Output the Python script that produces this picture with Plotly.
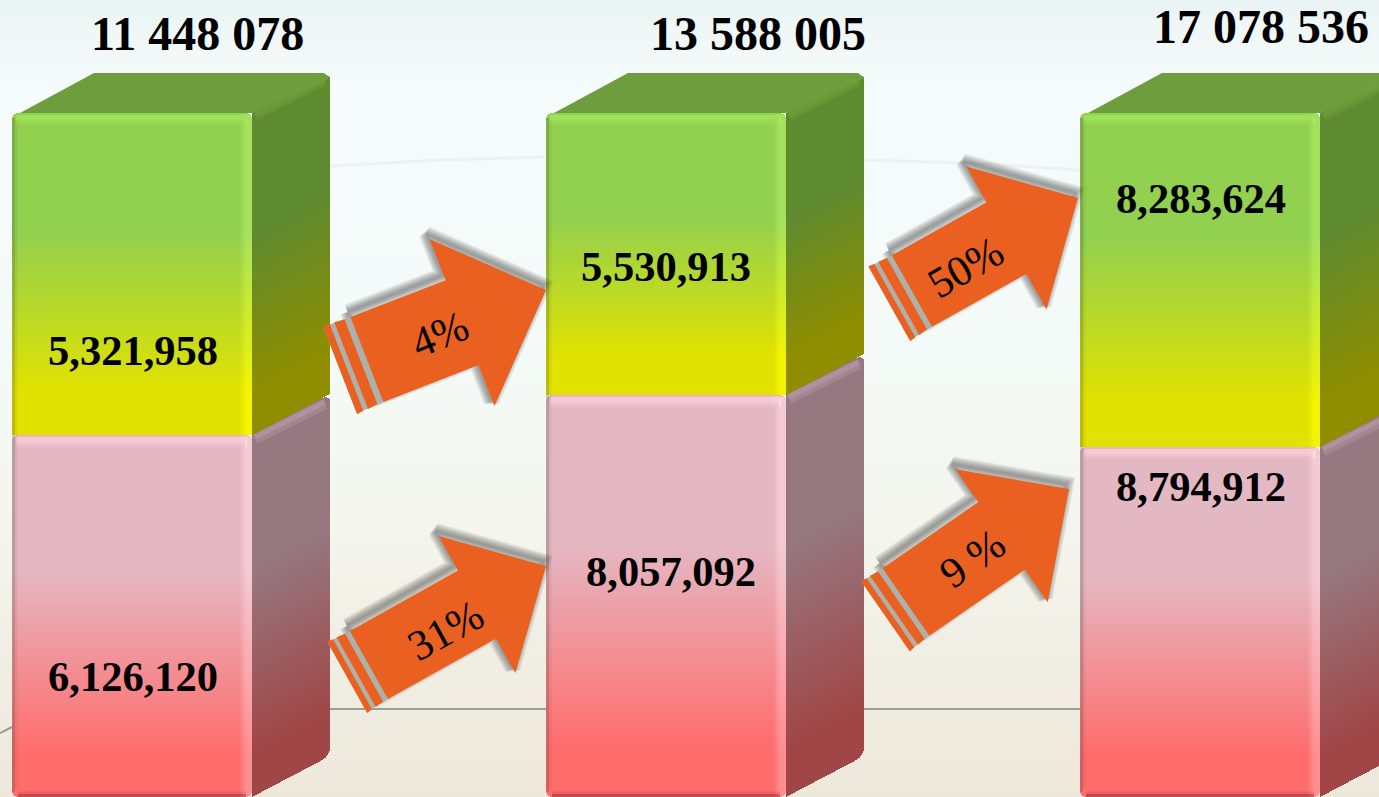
import math
import numpy as np
import plotly.graph_objects as go

# ---------- data ----------
categories = ["A", "B", "C"]
totals = [11448078, 13588005, 17078536]
green_values = [5321958, 5530913, 8283624]
pink_values = [6126120, 8057092, 8794912]
# drawn segment heights (the source picture is not to scale)
green_heights = [322, 282, 334]
pink_heights = [362, 402, 350]
arrow_labels = ["4%", "31%", "50%", "9 %"]

# ---------- layout / geometry ----------
W, H = 1379, 797
COL_LEFT = [12, 546, 1080]
COL_W = 240
DX, DY = 78, 41
R = 6
TOTAL_POS = [(197, 33), (758, 33), (1261, 26)]
GREEN_LABEL_POS = [(133, 350), (666, 266), (1201, 198)]
PINK_LABEL_POS = [(133, 676), (671, 571), (1201, 486)]
# back centre, tip, body width, head width, head length, tail length, text centre, text angle
ARROWS = [
    ((367, 359.5), (546, 290), 91, 179, 90, 29, (439, 334), -22),
    ((369, 665), (546, 566), 78, 157, 79, 25, (445, 630), -29),
    ((912, 291), (1078, 198), 82, 164, 82, 26, (965, 267), -30),
    ((906, 602), (1069, 489), 82, 162, 82, 25, (972, 558), -35),
]

GREEN_STOPS = [0, 0.37, 0.87, 1]
PINK_STOPS = [0, 0.37, 0.88, 1]
GREEN_C = ["#92d050", "#92d050", "#e2e200", "#e2e200"]
GREEN_LC = ["#a4e25e", "#a4e25e", "#f4f400", "#f4f400"]
GREEN_SC = ["#5e8a30", "#5e8a30", "#8e8e00", "#8e8e00"]
PINK_C = ["#e4b8c3", "#e4b8c3", "#ff6c6c", "#ff6c6c"]
PINK_LC = ["#f4cad4", "#f4cad4", "#ff8e90", "#ff8e90"]
PINK_SC = ["#957880", "#957880", "#a04646", "#a04646"]
ORANGE = "#e96020"


def mix(a, b, t):
    ca = [int(a[i:i + 2], 16) for i in (1, 3, 5)]
    cb = [int(b[i:i + 2], 16) for i in (1, 3, 5)]
    return "#%02x%02x%02x" % tuple(round(u + (v - u) * t) for u, v in zip(ca, cb))


def scale(stops, colors):
    return [[s, c] for s, c in zip(stops, colors)]


def mixed(stops, c0, c1, t):
    return [[s, mix(a, b, t)] for s, a, b in zip(stops, c0, c1)]


def Y(py):
    return H - py


fig = go.Figure()


def heat(xc, yc, z, cs, smooth=False):
    fig.add_trace(go.Heatmap(
        x=xc, y=yc, z=np.round(z, 3), colorscale=cs, zmin=0, zmax=1, showscale=False,
        hoverinfo="skip", zsmooth="best" if smooth else False))


def poly(pts, color, lw=0, lc=None):
    xs = [p[0] for p in pts] + [pts[0][0]]
    ys = [Y(p[1]) for p in pts] + [Y(pts[0][1])]
    fig.add_trace(go.Scatter(
        x=xs, y=ys, mode="lines", fill="toself", fillcolor=color,
        line=dict(width=lw, color=lc or color), hoverinfo="skip", showlegend=False))


def seg(x, y, color, w):
    fig.add_trace(go.Scatter(
        x=x, y=[None if v is None else Y(v) for v in y], mode="lines",
        line=dict(color=color, width=w), hoverinfo="skip", showlegend=False, connectgaps=False))


def front(x0, x1, top, bottom, span_top, span_h, cs, corners=(0, 0, 0, 0)):
    """Vertical gradient rectangle; top/bottom in pixels from the picture's top."""
    xs = np.arange(x0, min(x1, W)) + 0.5
    ps = np.arange(top, min(bottom, H)) + 0.5
    X, P = np.meshgrid(xs, ps)
    z = (P - span_top) / span_h
    tl, tr, bl, br = corners
    for flag, cx, cy, sx, sy in ((tl, x0 + R, top + R, -1, -1), (tr, x1 - R, top + R, 1, -1),
                                 (bl, x0 + R, bottom - R, -1, 1), (br, x1 - R, bottom - R, 1, 1)):
        if flag:
            m = ((X - cx) * sx > 0) & ((P - cy) * sy > 0) & ((X - cx) ** 2 + (P - cy) ** 2 > R ** 2)
            z[m] = np.nan
    heat(xs, H - ps, z, cs)


def side(x1, top, bottom, cs, round_top=False, round_bottom=False):
    xs = np.arange(x1, min(x1 + DX, W)) + 0.5
    ps = np.arange(top - DY, min(bottom, H)) + 0.5
    X, P = np.meshgrid(xs, ps)
    shift = (X - x1) * DY / DX
    t_edge = top - shift
    b_edge = bottom - shift
    r = 8
    over = np.clip(X - (x1 + DX - r), 0, r)
    cut = r - np.sqrt(np.maximum(r ** 2 - over ** 2, 0))
    if round_top:
        t_edge = t_edge + cut
    if round_bottom:
        b_edge = b_edge - cut
    z = (P - t_edge) / (bottom - top)
    z[(P < t_edge) | (P > b_edge)] = np.nan
    heat(xs, H - ps, z, cs)


# ---------- background ----------
bg_stops = [[0, "#e9f3f3"], [0.04, "#f0f7f7"], [0.12, "#f6fcfc"], [0.2, "#f5fbfb"], [0.45, "#f4faf7"],
            [0.65, "#f4f6ee"], [0.85, "#f0ede2"], [1, "#eee8db"]]
bg_y = np.linspace(0, H, 200)
heat([0, W], H - bg_y, np.tile((bg_y / H)[:, None], (1, 2)), bg_stops, smooth=True)

# faint arc and horizon
seg([330, 440, 546, None, 864, 970, 1080], [166, 160, 157, None, 160, 163, 170], "rgba(228,228,222,0.4)", 3)
seg([0, 12, None, 330, 546, None, 864, 1080], [733, 727, None, 709, 709, None, 709, 709], "#9c9c96", 2)

# ---------- columns ----------
for i, cat in enumerate(categories):
    x0 = COL_LEFT[i]
    x1 = x0 + COL_W
    g, p = green_heights[i], pink_heights[i]
    top = H - g - p
    mid = top + g

    # faces: gradient heatmaps positioned from the segment heights
    side(x1, top, mid, scale(GREEN_STOPS, GREEN_SC), round_top=True)
    side(x1, mid, H, scale(PINK_STOPS, PINK_SC), round_top=True, round_bottom=True)
    front(x0, x1, top, mid, top, g, scale(GREEN_STOPS, GREEN_C), (1, 1, 0, 0))
    front(x0, x1, mid, H, mid, p, scale(PINK_STOPS, PINK_C), (1, 1, 1, 1))
    # soft lighter bevel at the right edge
    for k, t in enumerate((0.25, 0.55, 0.85, 1.0)):
        xa = x1 - 12 + 2 * k if k < 3 else x1 - 6
        xb = x1 - 12 + 2 * (k + 1) if k < 3 else x1
        cg = (0, 1, 0, 0) if k == 3 else (0, 0, 0, 0)
        cp = (0, 1, 0, 1) if k == 3 else (0, 0, 0, 0)
        front(xa, xb, top + 1, mid, top, g, mixed(GREEN_STOPS, GREEN_C, GREEN_LC, t), cg)
        front(xa, xb, mid + 1, H, mid, p, mixed(PINK_STOPS, PINK_C, PINK_LC, t), cp)

    # soft top bevels and edges
    for h, a in ((12, 0.3), (9, 0.45), (7, 0.6)):
        poly([(x0 + 4, top + 2), (x1 - 3, top + 2), (x1 - 3, top + h), (x0 + 4, top + h)],
             f"rgba(160,226,92,{a})")
        poly([(x0 + 4, mid + 2), (x1 - 3, mid + 2), (x1 - 3, mid + h), (x0 + 4, mid + h)],
             f"rgba(250,205,216,{a})")
    seg([x0 + 1.5, x0 + 1.5], [top + 5, H - 5], "rgba(60,60,40,0.22)", 3)
    seg([x0 + 4, x0 + 4], [top + 8, H - 8], "rgba(60,60,40,0.07)", 3)
    seg([x0 + 6, x1 - 6], [H - 1.5, H - 1.5], "rgba(90,20,20,0.35)", 3)
    seg([x0 + 6, x1 - 6], [H - 4, H - 4], "rgba(90,20,20,0.12)", 3)
    seg([x1 - 7, x1 - 5], [top + 8, top + 8], "rgba(180,236,110,0.6)", 7)
    seg([x1 - 7, x1 - 5], [mid + 8, mid + 8], "rgba(255,232,238,0.7)", 7)

    # top face
    poly([(x0 + 8, top), (x0 + DX + 4, top - DY + 1), (x1 + DX - 6, top - DY + 1),
          (min(x1 + DX, W + 40), top - DY + 6), (x1 + DX - 4, top - DY + 8), (x1, top)], "#6e9d3e")
    seg([x1 + 3, x1 + DX - 5], [top + 3, top - DY + 9], "rgba(112,160,58,0.45)", 9)
    seg([x1 + 3, x1 + DX - 5], [top + 2, top - DY + 8], "rgba(112,160,58,0.45)", 5)
    seg([x1 + 3, x1 + DX - 5], [mid + 4, mid - DY + 10], "rgba(200,170,185,0.3)", 10)
    seg([x1 + 3, x1 + DX - 5], [mid + 2, mid - DY + 8], "rgba(200,170,185,0.35)", 5)


# ---------- arrows ----------
def arrow_points(back, tip, bw, hw, hl):
    ax, ay = tip[0] - back[0], tip[1] - back[1]
    L = math.hypot(ax, ay)
    ux, uy = ax / L, ay / L
    nx, ny = uy, -ux  # points to the upper-left side

    def at(a, n):
        return (back[0] + ux * a + nx * n, back[1] + uy * a + ny * n)

    return at, L, [at(0, bw / 2), at(L - hl, bw / 2), at(L - hl, hw / 2), at(L, 0),
                   at(L - hl, -hw / 2), at(L - hl, -bw / 2), at(0, -bw / 2)]


for (back, tip, bw, hw, hl, tail, tc, ang), label in zip(ARROWS, arrow_labels):
    at, L, pts = arrow_points(back, tip, bw, hw, hl)
    s = tail / 29
    shadow = [(px - 3, py - 5) for px, py in pts]
    for lw in range(16, 0, -2):
        poly(shadow, "rgba(70,70,70,0)", lw=lw, lc="rgba(60,60,60,0.08)")
    poly([at(0, bw / 2), at(0, -bw / 2), at(-tail, -bw / 2 - 1), at(-tail, bw / 2 + 1)], "#aeb0aa")
    poly([at(-6.5 * s, bw / 2), at(-6.5 * s, -bw / 2), at(-17 * s, -bw / 2 - 1), at(-17 * s, bw / 2 + 1)], ORANGE)
    poly([at(-22 * s, bw / 2 + 1), at(-22 * s, -bw / 2 - 1), at(-tail, -bw / 2 - 2), at(-tail, bw / 2 + 2)], ORANGE)
    poly(pts, ORANGE)

# ---------- text ----------
ann = []
FONT = "Liberation Serif, Times New Roman, serif"
for (x, y), v in zip(TOTAL_POS, totals):
    ann.append(dict(x=x, y=Y(y), text="<b>" + f"{v:,}".replace(",", " ") + "</b>", showarrow=False,
                    font=dict(family=FONT, size=48, color="black")))
for pos, vals in ((GREEN_LABEL_POS, green_values), (PINK_LABEL_POS, pink_values)):
    for (x, y), v in zip(pos, vals):
        ann.append(dict(x=x, y=Y(y), text=f"<b>{v:,}</b>", showarrow=False,
                        font=dict(family=FONT, size=42.5, color="black")))
for (back, tip, bw, hw, hl, tail, tc, ang), label in zip(ARROWS, arrow_labels):
    ann.append(dict(x=tc[0], y=Y(tc[1]), text=label, textangle=ang, showarrow=False,
                    font=dict(family=FONT, size=43, color="black")))

fig.update_layout(
    width=W, height=H, autosize=False, margin=dict(l=0, r=0, t=0, b=0, pad=0),
    paper_bgcolor="#f5fbfb", plot_bgcolor="#f5fbfb", showlegend=False, annotations=ann,
    xaxis=dict(range=[0, W], visible=False, fixedrange=True),
    yaxis=dict(range=[0, H], visible=False, fixedrange=True),
)
fig.write_html("out.html", config=dict(displayModeBar=False),
               post_script="document.body.style.margin='0';document.body.style.overflow='hidden';")
